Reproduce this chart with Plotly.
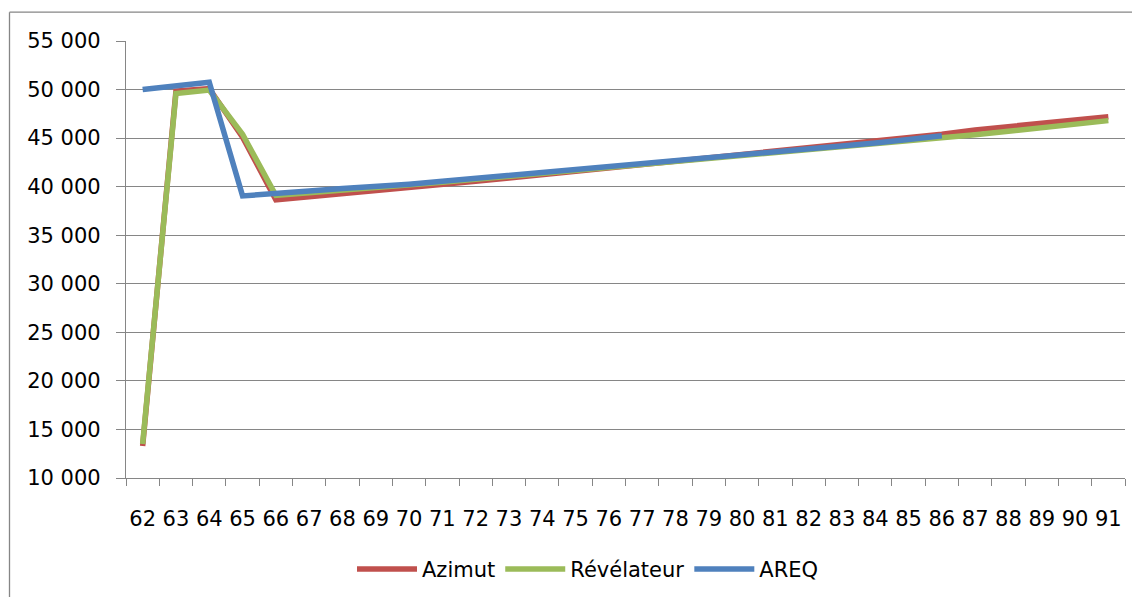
import plotly.graph_objects as go

years = [str(y) for y in range(62, 92)]

azimut = [13300, 49850, 50100, 45100, 38650, 38950, 39250, 39550, 39850, 40200,
          40550, 40900, 41250, 41600, 41950, 42300, 42650, 43000, 43300, 43650,
          43950, 44300, 44650, 45000, 45400, 45850, 46200, 46550, 46900, 47200]

revelateur = [13500, 49600, 49950, 45400, 39100, 39350, 39600, 39850, 40150, 40450,
              40750, 41050, 41350, 41650, 41950, 42250, 42550, 42850, 43150, 43450,
              43750, 44050, 44400, 44700, 45050, 45350, 45700, 46050, 46450, 46800]

areq = [50000, 50350, 50750, 39050, 39250, 39550, 39800, 40000, 40250, 40550,
        40850, 41150, 41450, 41700, 42000, 42350, 42650, 42950, 43250, 43550,
        43850, 44200, 44500, 44850, 45250]

series = [
    ("Azimut", azimut, "#C0504D"),
    ("Révélateur", revelateur, "#9BBB59"),
    ("AREQ", areq, "#4F81BD"),
]

fig = go.Figure()
for name, vals, col in series:
    fig.add_trace(go.Scatter(
        x=years[:len(vals)], y=vals, name=name, mode="lines",
        line=dict(color=col, width=5.5),
    ))

# page body adds an 8px offset; compensate
OFF = 8
W, H = 1140 - 2 * OFF, 605 - 2 * OFF
L, T = 126 - OFF, 41 - OFF
R = W - (1125 - OFF)
B = H - (481 - OFF)
pw, ph = W - L - R, H - T - B

def px_x(x):
    return (x - OFF - L) / pw

def px_y(y):
    return (H - B - (y - OFF)) / ph

border = dict(color="#868686", width=1.3)
# chart-area border: only left and top edges fall inside the view
fig.add_shape(type="line", xref="paper", yref="paper",
              x0=px_x(9.5), x1=px_x(9.5), y0=px_y(12), y1=px_y(603),
              line=border, layer="below")
fig.add_shape(type="line", xref="paper", yref="paper",
              x0=px_x(9.5), x1=px_x(1140), y0=px_y(12), y1=px_y(12),
              line=border, layer="below")

fig.update_layout(
    width=W, height=H,
    margin=dict(l=L, r=R, t=T, b=B),
    paper_bgcolor="white", plot_bgcolor="white",
    separators=", ",
    font=dict(family="DejaVu Sans", size=21, color="black"),
    showlegend=True,
    legend=dict(orientation="h", x=px_x(588), xanchor="center",
                y=px_y(573), yanchor="middle",
                font=dict(size=21), itemwidth=60, tracegroupgap=0),
    xaxis=dict(
        type="category", tickson="boundaries", ticks="outside", ticklen=7,
        tickcolor="#868686", tickwidth=1.3, tickangle=0, automargin=False,
        showline=True, linecolor="#868686", linewidth=1.3,
        showgrid=False, zeroline=False, ticklabelstandoff=22,
        range=[-0.5, 29.5],
    ),
    yaxis=dict(
        range=[10000, 55000], dtick=5000, tick0=10000, tickformat=",d",
        ticks="outside", ticklen=9, tickcolor="#868686", tickwidth=1.3,
        showline=True, linecolor="#868686", linewidth=1.3, automargin=False,
        showgrid=True, gridcolor="#868686", gridwidth=1.3,
        zeroline=False, ticklabelstandoff=11,
    ),
)

fig.write_html("out.html")
